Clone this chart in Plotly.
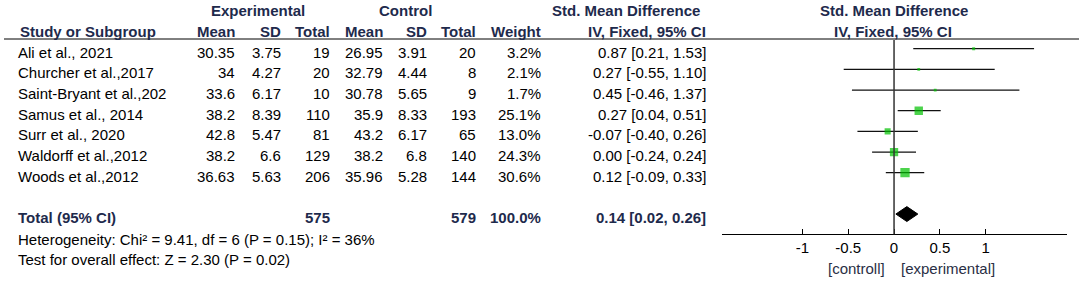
import plotly.graph_objects as go

# ---------------- data ----------------
studies = ["Ali et al., 2021", "Churcher et al.,2017", "Saint-Bryant et al.,202",
           "Samus et al., 2014", "Surr et al., 2020", "Waldorff et al.,2012",
           "Woods et al.,2012"]
exp_mean = [30.35, 34, 33.6, 38.2, 42.8, 38.2, 36.63]
exp_sd = [3.75, 4.27, 6.17, 8.39, 5.47, 6.6, 5.63]
exp_total = [19, 20, 10, 110, 81, 129, 206]
ctl_mean = [26.95, 32.79, 30.78, 35.9, 43.2, 38.2, 35.96]
ctl_sd = [3.91, 4.44, 5.65, 8.33, 6.17, 6.8, 5.28]
ctl_total = [20, 8, 9, 193, 65, 140, 144]
weight = [3.2, 2.1, 1.7, 25.1, 13.0, 24.3, 30.6]
smd = [0.87, 0.27, 0.45, 0.27, -0.07, 0.00, 0.12]
ci_lo = [0.21, -0.55, -0.46, 0.04, -0.40, -0.24, -0.09]
ci_hi = [1.53, 1.10, 1.37, 0.51, 0.26, 0.24, 0.33]

total_exp = 575
total_ctl = 579
total_weight = 100.0
total_smd = 0.14
total_lo = 0.02
total_hi = 0.26

heterogeneity = "Heterogeneity: Chi² = 9.41, df = 6 (P = 0.15); I² = 36%"
overall_test = "Test for overall effect: Z = 2.30 (P = 0.02)"

tick_vals = [-1, -0.5, 0, 0.5, 1]
tick_text = ["-1", "-0.5", "0", "0.5", "1"]
favours_left = "[controll]"
favours_right = "[experimental]"

# ---------------- layout constants ----------------
W, H = 1084, 281
FONT = "Liberation Sans, Arial, sans-serif"
FS = 15          # regular text size
FSB = 15         # bold text size
NAVY = "#1e2a4c"
GREEN = "#00c000"
ROW0 = 48.7      # pixel y of first study marker row
ROWH = 20.67     # pixel height of a row
TXT_OFF = 3.4    # text sits a bit lower than markers
AXIS_PX = 234.3  # pixel y of forest axis line
X_RANGE = [-1.88, 1.89]
X_DOM = [722 / W, 1067 / W]


def px_x(p):
    return p / W


def px_y(p):
    return 1 - p / H


def row_text_y(r):
    return px_y(ROW0 + ROWH * r + TXT_OFF)


fig = go.Figure()

# CI lines
xs, ys = [], []
for i in range(len(studies)):
    xs += [ci_lo[i], ci_hi[i], None]
    ys += [i, i, None]
fig.add_trace(go.Scatter(x=xs, y=ys, mode="lines",
                         line=dict(color="#111111", width=1.2),
                         hoverinfo="skip", showlegend=False))

# squares (area proportional to weight)
fig.add_trace(go.Scatter(x=smd, y=list(range(len(studies))), mode="markers",
                         marker=dict(symbol="square", color=GREEN,
                                     size=[max(2.8, 1.68 * w ** 0.5) for w in weight],
                                     line=dict(width=0)),
                         hoverinfo="skip", showlegend=False))

# diamond for total
total_row = 8
dh = 0.36
fig.add_trace(go.Scatter(x=[total_lo, total_smd, total_hi, total_smd, total_lo],
                         y=[total_row, total_row - dh, total_row, total_row + dh, total_row],
                         mode="lines", fill="toself", fillcolor="black",
                         line=dict(color="black", width=1),
                         hoverinfo="skip", showlegend=False))

# axes
y_top_r = -ROW0 / ROWH
y_bot_r = (AXIS_PX - ROW0) / ROWH
fig.update_layout(
    width=W, height=H,
    margin=dict(l=0, r=0, t=0, b=0),
    paper_bgcolor="white", plot_bgcolor="white",
    xaxis=dict(domain=X_DOM, range=X_RANGE, showline=True, linecolor="black",
               linewidth=1, ticks="inside", ticklen=5, tickcolor="black",
               tickwidth=1, tickvals=tick_vals, ticktext=tick_text,
               showgrid=False, zeroline=False,
               tickfont=dict(family=FONT, size=FS, color="black")),
    yaxis=dict(domain=[1 - AXIS_PX / H, 1], range=[y_bot_r, y_top_r],
               visible=False, showgrid=False, zeroline=False),
    font=dict(family=FONT, size=FS, color="black"),
)

# vertical line at zero, header rule
fig.add_shape(type="line", xref="x", yref="paper", x0=0, x1=0,
              y0=px_y(AXIS_PX), y1=px_y(40), line=dict(color="#333333", width=1.5))
fig.add_shape(type="line", xref="paper", yref="paper", x0=px_x(4), x1=px_x(1079),
              y0=px_y(39), y1=px_y(39), line=dict(color="black", width=1))

anns = []


def txt(text, x, r, anchor="right", bold=False, color="black"):
    anns.append(dict(text=("<b>%s</b>" % text) if bold else text,
                     x=px_x(x), y=row_text_y(r), xref="paper", yref="paper",
                     xanchor=anchor, yanchor="middle", showarrow=False,
                     borderpad=0,
                     font=dict(family=FONT, size=FSB if bold else FS, color=color)))


# headers
txt("Experimental", 258, -2, "center", True, NAVY)
txt("Control", 405, -2, "center", True, NAVY)
txt("Std. Mean Difference", 626, -2, "center", True, NAVY)
txt("Std. Mean Difference", 894, -2, "center", True, NAVY)
txt("Study or Subgroup", 19, -1, "left", True, NAVY)
for label, x in [("Mean", 236), ("SD", 282), ("Total", 331), ("Mean", 384),
                 ("SD", 428), ("Total", 477), ("Weight", 542),
                 ("IV, Fixed, 95% CI", 707)]:
    txt(label, x, -1, "right", True, NAVY)
txt("IV, Fixed, 95% CI", 893, -1, "center", True, NAVY)

# study rows
for i, s in enumerate(studies):
    txt(s, 17, i, "left")
    txt(format(exp_mean[i], "g"), 236, i)
    txt(format(exp_sd[i], "g"), 282, i)
    txt(str(exp_total[i]), 331, i)
    txt(format(ctl_mean[i], "g"), 384, i)
    txt(format(ctl_sd[i], "g"), 428, i)
    txt(str(ctl_total[i]), 477, i)
    txt("%.1f%%" % weight[i], 542, i)
    txt("%.2f [%.2f, %.2f]" % (smd[i], ci_lo[i], ci_hi[i]), 707, i)

# total row
txt("Total (95% CI)", 17, total_row, "left", True, NAVY)
txt(str(total_exp), 331, total_row, "right", True, NAVY)
txt(str(total_ctl), 477, total_row, "right", True, NAVY)
txt("%.1f%%" % total_weight, 542, total_row, "right", True, NAVY)
txt("%.2f [%.2f, %.2f]" % (total_smd, total_lo, total_hi), 707, total_row, "right", True, NAVY)

txt(heterogeneity, 17, 9.05, "left")
txt(overall_test, 17, 10.02, "left")

# favours labels
anns.append(dict(text=favours_left, x=px_x(886), y=px_y(268), xref="paper", yref="paper",
                 xanchor="right", yanchor="middle", showarrow=False, borderpad=0,
                 font=dict(family=FONT, size=FS, color="#2a2f45")))
anns.append(dict(text=favours_right, x=px_x(900), y=px_y(268), xref="paper", yref="paper",
                 xanchor="left", yanchor="middle", showarrow=False, borderpad=0,
                 font=dict(family=FONT, size=FS, color="#2a2f45")))

fig.update_layout(annotations=anns)
fig.write_html("out.html",
               config={"displayModeBar": False, "staticPlot": True},
               post_script="document.body.style.margin='0';document.body.style.overflow='hidden';")
